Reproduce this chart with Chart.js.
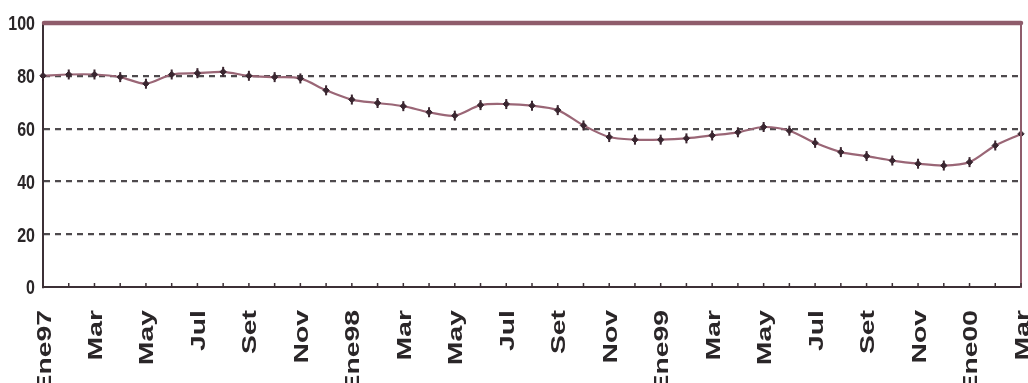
<!DOCTYPE html>
<html lang="es">
<head>
<meta charset="utf-8">
<title>Índice mensual Ene97 – Mar00</title>
<script src="https://cdn.jsdelivr.net/npm/chart.js@4.4.1/dist/chart.umd.min.js"></script>
<style>
  html, body { margin: 0; padding: 0; background: #ffffff; }
  #wrap { width: 1028px; height: 383px; }
</style>
</head>
<body>
<div id="wrap"><canvas id="chart" width="1028" height="383"></canvas></div>
<script>
// Months from Ene97 to Mar00
const months = [
  'Ene97','Feb','Mar','Abr','May','Jun','Jul','Ago','Set','Oct','Nov','Dic',
  'Ene98','Feb','Mar','Abr','May','Jun','Jul','Ago','Set','Oct','Nov','Dic',
  'Ene99','Feb','Mar','Abr','May','Jun','Jul','Ago','Set','Oct','Nov','Dic',
  'Ene00','Feb','Mar'
];

// Monthly index values
const indexValues = [
  80.0, 80.5, 80.5, 79.5, 77.0, 80.5, 81.0, 81.5, 80.0, 79.5, 79.0, 74.5,
  71.0, 69.7, 68.5, 66.2, 64.9, 68.9, 69.3, 68.7, 67.0, 61.2, 56.8, 55.8,
  55.8, 56.3, 57.4, 58.6, 60.6, 59.2, 54.6, 51.1, 49.6, 47.9, 46.7, 46.0,
  47.3, 53.6, 58.0
];

// Axis tick labels
const yTicks = [0, 20, 40, 60, 80, 100];
const xTickLabels = months.map((m, i) => (i % 2 === 0 ? m : ''));

const FRAME = '#8f5c6b';
const AXIS = '#3c3036';
const LINE = '#9a6676';
const MARK = '#3a2630';
const TEXT = '#2a2628';
const FONT = '"Liberation Sans", Arial, sans-serif';

// Frame, small month ticks and the tall, narrow axis labels
const framePlugin = {
  id: 'frameAndLabels',
  afterDraw(chart) {
    const { ctx, chartArea: a, scales: { x, y } } = chart;
    ctx.save();

    // top edge of the frame
    const yTop = y.getPixelForValue(100);
    const yBase = y.getPixelForValue(0);
    ctx.strokeStyle = FRAME;
    ctx.lineCap = 'round';
    ctx.lineWidth = 4.5;
    ctx.beginPath();
    ctx.moveTo(a.left + 1, yTop);
    ctx.lineTo(a.right, yTop);
    ctx.stroke();

    // right edge
    ctx.lineWidth = 2;
    ctx.beginPath();
    ctx.moveTo(a.right, yTop);
    ctx.lineTo(a.right, yBase);
    ctx.stroke();

    // short ticks rising from the base line, one per month
    ctx.strokeStyle = AXIS;
    ctx.lineWidth = 1.5;
    ctx.lineCap = 'butt';
    months.forEach((m, i) => {
      const px = x.getPixelForValue(i);
      ctx.beginPath();
      ctx.moveTo(px, yBase);
      ctx.lineTo(px, yBase - 4);
      ctx.stroke();
    });

    ctx.fillStyle = TEXT;

    // value labels on the left, vertically stretched
    ctx.font = 'bold 16px ' + FONT;
    ctx.textAlign = 'right';
    ctx.textBaseline = 'alphabetic';
    yTicks.forEach(v => {
      const py = y.getPixelForValue(v);
      ctx.save();
      ctx.translate(a.left - 8, py);
      ctx.scale(1, 1.3);
      ctx.fillText(String(v), 0, 5.7);
      ctx.restore();
    });

    // month labels, read bottom to top, stretched along the text
    ctx.font = 'bold 21px ' + FONT;
    ctx.textAlign = 'right';
    const labelTop = x.top + 23;
    xTickLabels.forEach((lab, i) => {
      if (!lab) return;
      const px = x.getPixelForValue(i);
      ctx.save();
      ctx.translate(px, labelTop);
      ctx.rotate(-Math.PI / 2);
      ctx.scale(1.35, 1);
      ctx.fillText(lab, 0, 7.5);
      ctx.restore();
    });

    ctx.restore();
  }
};

new Chart(document.getElementById('chart'), {
  type: 'line',
  data: {
    labels: months,
    datasets: [
      {
        data: indexValues,
        borderColor: LINE,
        borderWidth: 2.2,
        tension: 0.3,
        pointStyle: 'rectRot',
        pointRadius: 3.2,
        pointBackgroundColor: MARK,
        pointBorderColor: MARK,
        pointBorderWidth: 1
      },
      {
        data: indexValues,
        showLine: false,
        pointStyle: 'line',
        rotation: 90,
        pointRadius: 5,
        pointBorderColor: MARK,
        pointBorderWidth: 2
      }
    ]
  },
  options: {
    responsive: false,
    animation: false,
    events: [],
    layout: { padding: { top: 23, right: 6, left: 0, bottom: 0 } },
    plugins: { legend: { display: false }, tooltip: { enabled: false } },
    scales: {
      x: {
        type: 'category',
        offset: false,
        grid: { display: false },
        border: { display: true, color: AXIS, width: 2 },
        ticks: { display: false },
        afterFit(scale) { scale.height = 96; }
      },
      y: {
        min: 0,
        max: 100,
        afterBuildTicks(scale) { scale.ticks = yTicks.map(v => ({ value: v })); },
        grid: {
          drawTicks: false,
          lineWidth: 2.2,
          color: c => (c.tick && (c.tick.value === 0 || c.tick.value === 100)) ? 'rgba(0,0,0,0)' : '#4e4a4d'
        },
        border: { display: true, color: AXIS, width: 2, dash: [6, 5] },
        ticks: { display: false },
        afterFit(scale) { scale.width = 43; }
      }
    }
  },
  plugins: [framePlugin]
});
</script>
</body>
</html>
